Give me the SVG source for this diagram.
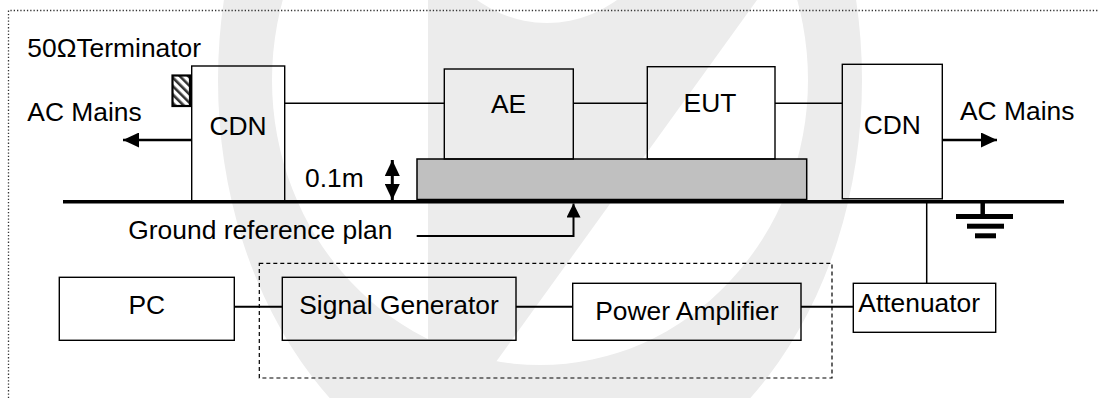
<svg xmlns="http://www.w3.org/2000/svg" width="1099" height="398" viewBox="0 0 1099 398">
  <style>
    text { font-family: "Liberation Sans", Arial, sans-serif; font-size: 26.4px; fill: #000; }
    .box { fill: none; stroke: #000; stroke-width: 1.4; }
    .wire { fill: none; stroke: #000; stroke-width: 1.5; }
    .wire2 { fill: none; stroke: #000; stroke-width: 2; }
    .arrow { fill: none; stroke: #000; stroke-width: 2.6; }
    .mark { fill: #ececec; }
    .mid { text-anchor: middle; }
  </style>
  <defs>
    <pattern id="hatch" patternUnits="userSpaceOnUse" width="6" height="6" patternTransform="rotate(-45)">
      <rect width="6" height="6" fill="#fff"/>
      <rect width="2.6" height="6" fill="#333"/>
    </pattern>
    <marker id="head" viewBox="0 0 16 15" refX="16" refY="7.5" markerWidth="16" markerHeight="15" markerUnits="userSpaceOnUse" orient="auto-start-reverse">
      <path d="M0,0 L16,7.5 L0,15 z" fill="#000"/>
    </marker>
    <marker id="headSmall" viewBox="0 0 14 14" refX="14" refY="7" markerWidth="14" markerHeight="14" markerUnits="userSpaceOnUse" orient="auto">
      <path d="M0,0 L14,7 L0,14 z" fill="#000"/>
    </marker>
  </defs>

  <rect width="1099" height="398" fill="#fff"/>

  <!-- faint background emblem -->
  <g id="emblem">
    <path class="mark" fill-rule="evenodd" d="M218,80 a322,420 0 1,0 644,0 a322,420 0 1,0 -644,0 z M272,80 a268,285 0 1,0 536,0 a268,285 0 1,0 -536,0 z"/>
    <polygon class="mark" points="428,0 757,0 470,398 428,398"/>
    <circle cx="547" cy="-95" r="118" fill="#fff"/>
  </g>

  <!-- dotted frame -->
  <path d="M8.5,398 V10.5 H1099" fill="none" stroke="#333" stroke-width="1.3" stroke-dasharray="1.3 2"/>

  <!-- raised support and ground plane -->
  <g id="support">
    <rect x="417" y="159" width="389.7" height="40.5" fill="#c0c0c0" stroke="#000" stroke-width="1.5"/>
  </g>
  <g id="ground-plane">
    <line x1="63" y1="201.8" x2="1064" y2="201.8" stroke="#000" stroke-width="3.6"/>
    <text x="128.3" y="239.3">Ground reference plan</text>
  </g>

  <g id="earth">
    <line x1="982.7" y1="201" x2="982.7" y2="215" stroke="#000" stroke-width="4.5"/>
    <rect x="956" y="214" width="57" height="5" fill="#000"/>
    <rect x="967" y="223.7" width="37" height="5" fill="#000"/>
    <rect x="975" y="233.3" width="21" height="5" fill="#000"/>
  </g>

  <!-- equipment -->
  <g id="terminator">
    <rect x="172.5" y="75.5" width="17.5" height="30.5" fill="url(#hatch)" stroke="#000" stroke-width="2.2"/>
    <text x="27.3" y="57">50ΩTerminator</text>
  </g>
  <g id="cdn-left">
    <rect class="box" x="191.7" y="66" width="93" height="135"/>
    <text class="mid" x="238" y="135">CDN</text>
  </g>
  <g id="ae">
    <rect class="box" x="444.3" y="69" width="129" height="90"/>
    <text class="mid" x="508.5" y="113.3">AE</text>
  </g>
  <g id="eut">
    <rect class="box" x="647.3" y="66.7" width="127.7" height="92.3"/>
    <text class="mid" x="710" y="111.7">EUT</text>
  </g>
  <g id="cdn-right">
    <rect class="box" x="842.3" y="64.3" width="100" height="134.5"/>
    <text class="mid" x="892.3" y="134.3">CDN</text>
  </g>
  <g id="mains-left">
    <text x="27.3" y="120.7">AC Mains</text>
  </g>
  <g id="mains-right">
    <text x="960" y="120">AC Mains</text>
  </g>
  <g id="height-label">
    <text x="305" y="186.7">0.1m</text>
  </g>

  <g id="test-system">
    <rect x="259.3" y="263.3" width="572.7" height="114.7" fill="none" stroke="#000" stroke-width="1.2" stroke-dasharray="4 3"/>
  </g>
  <g id="pc">
    <rect class="box" x="59.3" y="277.3" width="175" height="63"/>
    <text class="mid" x="146.8" y="314">PC</text>
  </g>
  <g id="signal-generator">
    <rect class="box" x="282.3" y="277.3" width="233.7" height="63"/>
    <text class="mid" x="399" y="314.3">Signal Generator</text>
  </g>
  <g id="power-amplifier">
    <rect class="box" x="572.7" y="283.3" width="228.3" height="57"/>
    <text class="mid" x="686.8" y="320">Power Amplifier</text>
  </g>
  <g id="attenuator">
    <rect class="box" x="853.3" y="283.3" width="142.4" height="49"/>
    <text x="858.3" y="311.7">Attenuator</text>
  </g>

  <!-- connectors -->
  <g id="connectors">
    <line class="wire" x1="284.7" y1="103.3" x2="444.3" y2="103.3"/>
    <line class="wire" x1="573.3" y1="103.3" x2="647.3" y2="103.3"/>
    <line class="wire" x1="775" y1="103.3" x2="842.3" y2="103.3"/>
    <line class="arrow" x1="191" y1="140" x2="123" y2="140" marker-end="url(#head)"/>
    <line class="arrow" x1="943" y1="140" x2="997" y2="140" marker-end="url(#head)"/>
    <line x1="392.3" y1="160" x2="392.3" y2="200" stroke="#000" stroke-width="3" marker-start="url(#head)" marker-end="url(#head)"/>
    <polyline class="wire2" points="416.7,236 573.5,236 573.5,203.5" marker-end="url(#headSmall)"/>
    <line class="wire" x1="926.7" y1="203" x2="926.7" y2="283.3"/>
    <line class="wire2" x1="234.3" y1="306.7" x2="282.3" y2="306.7"/>
    <line class="wire2" x1="516" y1="306.7" x2="572.7" y2="306.7"/>
    <line class="wire2" x1="801" y1="306.7" x2="853.3" y2="306.7"/>
  </g>
</svg>
